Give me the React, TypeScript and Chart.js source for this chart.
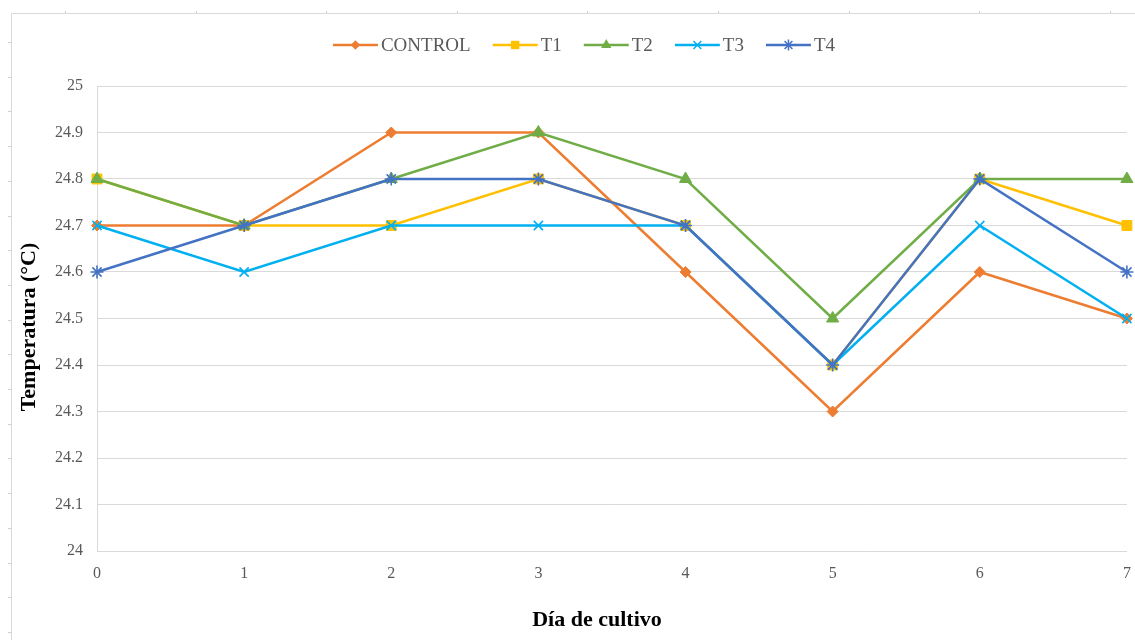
import React, { useEffect, useRef } from "react";
import { Chart, registerables } from "chart.js";

Chart.register(...registerables);

const days = ["0", "1", "2", "3", "4", "5", "6", "7"];
const control = [24.7, 24.7, 24.9, 24.9, 24.6, 24.3, 24.6, 24.5];
const t1 = [24.8, 24.7, 24.7, 24.8, 24.7, 24.4, 24.8, 24.7];
const t2 = [24.8, 24.7, 24.8, 24.9, 24.8, 24.5, 24.8, 24.8];
const t3 = [24.7, 24.6, 24.7, 24.7, 24.7, 24.4, 24.7, 24.5];
const t4 = [24.6, 24.7, 24.8, 24.8, 24.7, 24.4, 24.8, 24.6];
const seriesNames = ["CONTROL", "T1", "T2", "T3", "T4"];
const seriesColors = ["#ED7D31", "#FFC000", "#70AD47", "#00B0F0", "#4472C4"];
const seriesMarkers = ["rectRot", "rect", "triangle", "crossRot", "star"];
const markerRadius = [5.5, 7, 7, 6.5, 6.5];
const yTitle = "Temperatura (°C)";
const xTitle = "Día de cultivo";

const SERIF = '"Liberation Serif", "Times New Roman", serif';

function drawMarker(ctx: CanvasRenderingContext2D, style: string, x: number, y: number, r: number, color: string) {
  ctx.save();
  ctx.fillStyle = color;
  ctx.strokeStyle = color;
  ctx.lineWidth = 1.5;
  ctx.beginPath();
  if (style === "rectRot") {
    ctx.moveTo(x - r, y);
    ctx.lineTo(x, y - r);
    ctx.lineTo(x + r, y);
    ctx.lineTo(x, y + r);
    ctx.closePath();
    ctx.fill();
  } else if (style === "rect") {
    const s = r * Math.SQRT1_2;
    ctx.rect(x - s, y - s, 2 * s, 2 * s);
    ctx.fill();
  } else if (style === "triangle") {
    ctx.moveTo(x, y - r);
    ctx.lineTo(x + r * 0.866, y + r * 0.5);
    ctx.lineTo(x - r * 0.866, y + r * 0.5);
    ctx.closePath();
    ctx.fill();
  } else if (style === "crossRot" || style === "star") {
    const d = r * Math.SQRT1_2;
    ctx.moveTo(x - d, y - d);
    ctx.lineTo(x + d, y + d);
    ctx.moveTo(x - d, y + d);
    ctx.lineTo(x + d, y - d);
    if (style === "star") {
      ctx.moveTo(x, y - r);
      ctx.lineTo(x, y + r);
      ctx.moveTo(x - r, y);
      ctx.lineTo(x + r, y);
    }
    ctx.stroke();
  }
  ctx.restore();
}

const decorPlugin = {
  id: "decor",
  beforeDraw(chart: any) {
    const ctx = chart.ctx as CanvasRenderingContext2D;
    const W = chart.width;
    const H = chart.height;
    ctx.save();
    ctx.fillStyle = "#ffffff";
    ctx.fillRect(0, 0, W, H);
    ctx.strokeStyle = "#d9d9d9";
    ctx.lineWidth = 1;
    ctx.beginPath();
    ctx.moveTo(11.5, H);
    ctx.lineTo(11.5, 13.5);
    ctx.lineTo(W, 13.5);
    ctx.stroke();
    ctx.strokeStyle = "#cfcfcf";
    ctx.beginPath();
    for (let x = 65; x < W; x += 130.6) {
      ctx.moveTo(Math.round(x) + 0.5, 11);
      ctx.lineTo(Math.round(x) + 0.5, 13);
    }
    for (let y = 42; y < H; y += 34.7) {
      ctx.moveTo(8, Math.round(y) + 0.5);
      ctx.lineTo(11, Math.round(y) + 0.5);
    }
    ctx.stroke();
    ctx.restore();
  },
  afterDraw(chart: any) {
    const ctx = chart.ctx as CanvasRenderingContext2D;
    ctx.save();
    // Legend
    ctx.font = `19px ${SERIF}`;
    const lineLen = 45;
    const gapText = 3;
    const gapItem = 22;
    const widths = seriesNames.map((n) => ctx.measureText(n).width);
    const total =
      widths.reduce((a, b) => a + b, 0) + seriesNames.length * (lineLen + gapText) + (seriesNames.length - 1) * gapItem;
    let x = 584 - total / 2;
    const y = 45;
    seriesNames.forEach((name, i) => {
      ctx.strokeStyle = seriesColors[i];
      ctx.lineWidth = 2.5;
      ctx.beginPath();
      ctx.moveTo(x, y);
      ctx.lineTo(x + lineLen, y);
      ctx.stroke();
      drawMarker(ctx, seriesMarkers[i], x + lineLen / 2, y, markerRadius[i] * 0.85, seriesColors[i]);
      ctx.fillStyle = "#595959";
      ctx.textAlign = "left";
      ctx.textBaseline = "middle";
      ctx.fillText(name, x + lineLen + gapText, y + 1);
      x += lineLen + gapText + widths[i] + gapItem;
    });
    // Axis titles
    ctx.fillStyle = "#000000";
    ctx.font = `bold 22px ${SERIF}`;
    ctx.textAlign = "center";
    ctx.textBaseline = "middle";
    ctx.fillText(xTitle, 597, 620);
    ctx.translate(29, 327);
    ctx.rotate(-Math.PI / 2);
    ctx.fillText(yTitle, 0, 0);
    ctx.restore();
  },
};

export default function App() {
  const canvasRef = useRef<HTMLCanvasElement | null>(null);

  useEffect(() => {
    if (!canvasRef.current) return;
    const allData = [control, t1, t2, t3, t4];
    const chart = new Chart(canvasRef.current, {
      type: "line",
      data: {
        labels: days,
        datasets: allData.map((d, i) => ({
          label: seriesNames[i],
          data: d,
          borderColor: seriesColors[i],
          backgroundColor: seriesColors[i],
          pointBackgroundColor: seriesColors[i],
          pointBorderColor: seriesColors[i],
          pointStyle: seriesMarkers[i] as any,
          pointRadius: markerRadius[i],
          pointBorderWidth: seriesMarkers[i] === "crossRot" || seriesMarkers[i] === "star" ? 1.6 : 1,
          borderWidth: 2.5,
          tension: 0,
          fill: false,
          order: allData.length - i,
        })),
      },
      options: {
        responsive: false,
        devicePixelRatio: 1,
        animation: false,
        layout: { padding: { left: 0, top: 86, right: 8, bottom: 0 } },
        plugins: {
          legend: { display: false },
          tooltip: { enabled: false },
        },
        scales: {
          x: {
            type: "category",
            offset: false,
            grid: { display: false, drawTicks: false },
            border: { display: true, color: "#d9d9d9", width: 1 },
            ticks: {
              color: "#595959",
              font: { family: SERIF, size: 16 },
              padding: 13,
              maxRotation: 0,
            },
            afterFit: (s: any) => {
              s.height = 89;
              s.paddingLeft = 0;
              s.paddingRight = 0;
            },
          },
          y: {
            min: 24,
            max: 25,
            grid: { color: "#d9d9d9", lineWidth: 1, drawTicks: false },
            border: { display: true, color: "#d9d9d9", width: 1 },
            ticks: {
              stepSize: 0.1,
              color: "#595959",
              font: { family: SERIF, size: 16 },
              padding: 14,
              callback: (v: any) => String(Math.round(Number(v) * 10) / 10),
            },
            afterFit: (s: any) => {
              s.width = 97;
              s.paddingTop = 0;
              s.paddingBottom = 0;
            },
          },
        },
      },
      plugins: [decorPlugin],
    });
    return () => chart.destroy();
  }, []);

  return (
    <div style={{ position: "fixed", left: 0, top: 0, width: 1135, height: 640, background: "#fff" }}>
      <canvas ref={canvasRef} width={1135} height={640} style={{ width: 1135, height: 640, display: "block" }} />
    </div>
  );
}
